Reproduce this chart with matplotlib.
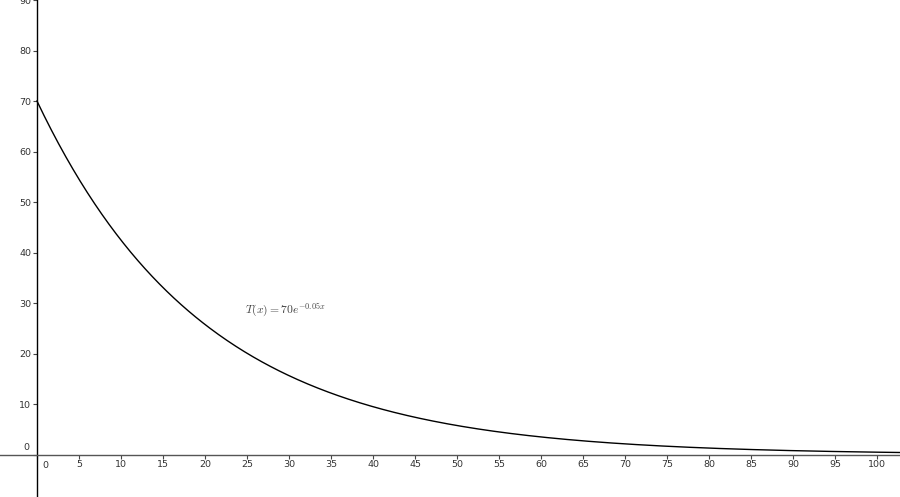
import matplotlib

matplotlib.use("Agg")
import matplotlib.pyplot as plt
import numpy as np

# T(x) = 70 e^(-0.05x), sampled along the visible x range
X_SAMPLES = np.linspace(0, 102.7, 600)
T_VALUES = 70 * np.exp(-0.05 * X_SAMPLES)
X_TICKS = list(range(0, 101, 5))
Y_TICKS = list(range(0, 91, 10))
LABEL = r"$T(x) = 70e^{-0.05x}$"

INK = "#333333"
TICK = "#444444"

plt.rcParams.update({
    "font.family": "DejaVu Sans",
    "mathtext.fontset": "cm",
})

fig = plt.figure(figsize=(9, 4.97), dpi=100)
ax = fig.add_axes([0, 0, 1, 1])
ax.set_xlim(-4.4, 102.7)
ax.set_ylim(-8.4, 90.0)

ax.plot(X_SAMPLES, T_VALUES, color="black", lw=1.0)

for s in ("top", "right"):
    ax.spines[s].set_visible(False)
ax.spines["left"].set_position(("data", 0))
ax.spines["bottom"].set_position(("data", 0))
ax.spines["left"].set_color("black")
ax.spines["bottom"].set_color("#555555")
ax.spines["left"].set_linewidth(1.0)
ax.spines["bottom"].set_linewidth(1.0)

ax.set_xticks(X_TICKS)
ax.set_yticks(Y_TICKS)
ax.set_xticklabels(["" if v == 0 else str(v) for v in X_TICKS])
ax.set_yticklabels(["" if v == 0 else str(v) for v in Y_TICKS])
ax.tick_params(axis="both", direction="out", length=3, width=0.8,
               color=TICK, labelcolor=INK, labelsize=6.8, pad=1)

# GeoGebra puts the two zero labels off the origin
ax.text(0.6, -1.2, "0", fontsize=6.8, color=INK, ha="left", va="top")
ax.text(-0.9, 0.5, "0", fontsize=6.8, color=INK, ha="right", va="bottom")

ax.text(24.8, 28.6, LABEL, fontsize=8.4, color="#444444", ha="left", va="center")

fig.savefig("out.png", dpi=100)
